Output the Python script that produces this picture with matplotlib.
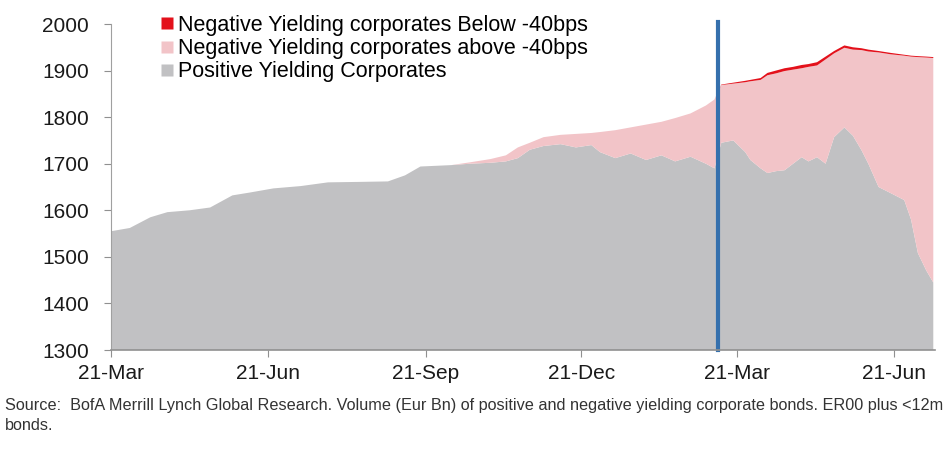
import numpy as np
import pandas as pd
from matplotlib import pyplot as plt
import matplotlib.dates as mdates
from matplotlib.lines import Line2D

plt.rcParams['font.family'] = ['Liberation Sans', 'DejaVu Sans']

# sample dates
dates = ["2015-03-21", "2015-04-01", "2015-04-13", "2015-04-23", "2015-05-06",
         "2015-05-18", "2015-05-31", "2015-06-10", "2015-06-24", "2015-07-10",
         "2015-07-26", "2015-08-14", "2015-08-30", "2015-09-09", "2015-09-18",
         "2015-10-06", "2015-10-17", "2015-10-29", "2015-11-07", "2015-11-14",
         "2015-11-21", "2015-11-29", "2015-12-09", "2015-12-18", "2015-12-27",
         "2016-01-01", "2016-01-10", "2016-01-19", "2016-01-28", "2016-02-06",
         "2016-02-14", "2016-02-23", "2016-03-03", "2016-03-08", "2016-03-12",
         "2016-03-19", "2016-03-26", "2016-03-29", "2016-04-04", "2016-04-08",
         "2016-04-13", "2016-04-18", "2016-04-23", "2016-04-28", "2016-05-02",
         "2016-05-07", "2016-05-12", "2016-05-17", "2016-05-23", "2016-05-28",
         "2016-06-02", "2016-06-06", "2016-06-12", "2016-06-19", "2016-06-27",
         "2016-07-01", "2016-07-05", "2016-07-10", "2016-07-14"]

# Eur Bn
positive = [1555, 1562, 1585, 1596, 1600, 1606, 1632, 1638, 1647, 1652,
            1660, 1661, 1662, 1675, 1694, 1697, 1700, 1702, 1705, 1712,
            1730, 1738, 1742, 1735, 1740, 1725, 1712, 1722, 1708, 1718,
            1705, 1715, 1700, 1690, 1745, 1750, 1725, 1708, 1690, 1680,
            1684, 1686, 1700, 1714, 1705, 1714, 1700, 1757, 1778, 1760,
            1729, 1700, 1650, 1637, 1622, 1580, 1508, 1470, 1445]

neg_above = [0, 0, 0, 0, 0, 0, 0, 0, 0, 0,
             0, 0, 0, 0, 0, 0, 3, 8, 13, 23,
             15, 19, 20, 29, 26, 43, 60, 56, 76, 72,
             93, 93, 125, 148, 124, 122, 150, 169, 190, 210,
             210, 213, 202, 191, 203, 197, 224, 180, 171, 185,
             215, 241, 289, 298, 310, 350, 421, 458, 482]

neg_below = [0, 0, 0, 0, 0, 0, 0, 0, 0, 0,
             0, 0, 0, 0, 0, 0, 0, 0, 0, 0,
             0, 0, 0, 0, 0, 0, 0, 0, 0, 0,
             0, 0, 0, 0, 1, 2, 3, 3, 4, 5,
             6, 6, 6, 7, 6, 7, 6, 5, 5, 5,
             4, 4, 3, 3, 2, 2, 2, 2, 2]

ecb_date = "2016-03-10"
tick_dates = ["2015-03-21", "2015-06-21", "2015-09-21", "2015-12-21",
              "2016-03-21", "2016-06-21"]

labels = ["Negative Yielding corporates Below -40bps",
          "Negative Yielding corporates above -40bps",
          "Positive Yielding Corporates"]

source = ("Source:  BofA Merrill Lynch Global Research. Volume (Eur Bn) of positive and "
          "negative yielding corporate bonds. ER00 plus <12m\nbonds.")

GREY = '#c1c1c3'
PINK = '#f2c4c8'
RED = '#e3111b'

x = pd.to_datetime(dates)

fig = plt.figure(figsize=(9.51, 4.65), dpi=100)
ax = fig.add_axes([111/951, 1 - 350/465, (935 - 111)/951, (350 - 24)/465])

ax.stackplot(x, positive, neg_above, neg_below,
             colors=[GREY, PINK, RED], linewidth=0)

ax.axvline(pd.Timestamp(ecb_date), ymin=0, ymax=1.005, color='#3570ad',
           lw=3, clip_on=False)

ax.set_ylim(1300, 2000)
ax.set_yticks(np.arange(1300, 2001, 100))
ax.set_xlim(pd.Timestamp("2015-03-21"), pd.Timestamp("2016-07-15"))
ax.set_xticks(pd.to_datetime(tick_dates))
ax.xaxis.set_major_formatter(mdates.DateFormatter('%d-%b'))

for s in ['top', 'right']:
    ax.spines[s].set_visible(False)
ax.spines['left'].set_color('#a0a0a0')
ax.spines['bottom'].set_color('#909090')
ax.spines['bottom'].set_linewidth(1.2)
ax.tick_params(axis='both', colors='#909090', labelcolor='#1a1a1a',
               labelsize=15, length=5)
ax.tick_params(axis='y', pad=11)
ax.tick_params(axis='x', pad=5)

handles = [Line2D([], [], ls='', marker='s', ms=9, mec='none', mfc=c)
           for c in [RED, PINK, GREY]]
ax.legend(handles, labels, loc='upper left', bbox_to_anchor=(0.0515, 1.054),
          frameon=False, fontsize=15.5, handlelength=0.5, handletextpad=0.25,
          labelspacing=0.1, borderaxespad=0)

fig.text(5/951, 1 - 398/465, source, fontsize=11.7, color='#333333',
         va='top', ha='left', linespacing=1.45)

fig.savefig('out.png', dpi=100)
